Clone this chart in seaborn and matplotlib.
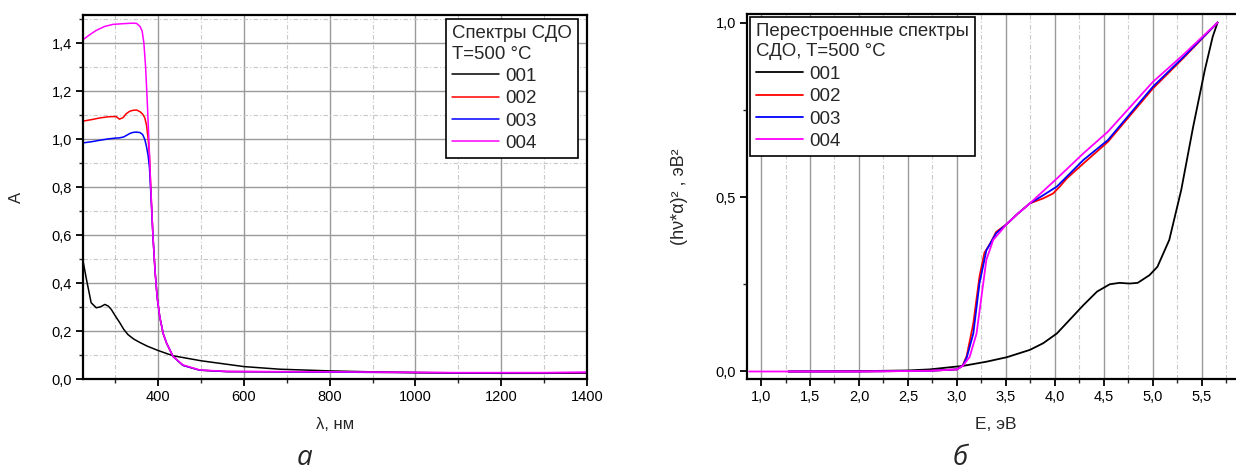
import numpy as np
import pandas as pd
import matplotlib
matplotlib.use("Agg")
import matplotlib.pyplot as plt
from matplotlib.ticker import MultipleLocator, FuncFormatter
import seaborn as sns

# ---------------- data: panel a (absorbance vs wavelength) ----------------
wl_001 = [225, 233, 244, 256, 266, 276, 284, 291, 300, 311, 320, 330, 343, 357, 375, 400, 435,
          501, 600, 684, 800, 900, 1000, 1100, 1200, 1300, 1400]
a_001 = [0.494, 0.417, 0.319, 0.298, 0.302, 0.312, 0.305, 0.291, 0.265, 0.235, 0.208, 0.186, 0.168,
         0.154, 0.138, 0.120, 0.098, 0.077, 0.053, 0.042, 0.035, 0.031, 0.028, 0.026, 0.025, 0.025, 0.026]

wl_002 = [225, 245, 264, 285, 302, 310, 318, 326, 334, 342, 350, 358, 364, 369, 373, 377, 380, 383,
          388, 393, 398, 404, 412, 420, 435, 458, 497, 560, 700, 900, 1100, 1300, 1400]
a_002 = [1.076, 1.082, 1.089, 1.094, 1.095, 1.084, 1.090, 1.107, 1.117, 1.121, 1.122, 1.115, 1.105,
         1.09, 1.06, 1.0, 0.93, 0.80, 0.60, 0.45, 0.34, 0.26, 0.19, 0.15, 0.095, 0.058, 0.038, 0.032,
         0.031, 0.029, 0.027, 0.026, 0.027]

wl_003 = [225, 245, 264, 285, 300, 310, 320, 328, 335, 342, 350, 358, 364, 369, 373, 377, 380, 383,
          388, 393, 398, 404, 412, 420, 435, 458, 497, 560, 700, 900, 1100, 1300, 1400]
a_003 = [0.985, 0.990, 0.996, 1.002, 1.005, 1.006, 1.010, 1.018, 1.025, 1.029, 1.030, 1.028, 1.02,
         1.0, 0.97, 0.93, 0.88, 0.78, 0.60, 0.45, 0.34, 0.26, 0.19, 0.15, 0.095, 0.058, 0.038, 0.032,
         0.031, 0.029, 0.027, 0.027, 0.028]

wl_004 = [225, 240, 256, 275, 295, 320, 340, 350, 358, 363, 367, 371, 375, 379, 383, 388, 393, 398,
          404, 412, 420, 435, 458, 497, 560, 700, 900, 1100, 1300, 1400]
a_004 = [1.415, 1.435, 1.454, 1.470, 1.479, 1.482, 1.484, 1.483, 1.47, 1.45, 1.40, 1.30, 1.15, 0.98,
         0.80, 0.60, 0.45, 0.34, 0.26, 0.19, 0.15, 0.095, 0.060, 0.039, 0.033, 0.032, 0.030, 0.028,
         0.028, 0.030]

# ---------------- data: panel б (Tauc plot) ----------------
e_001 = [1.28, 2.0, 2.5, 2.72, 3.06, 3.30, 3.51, 3.745, 3.88, 4.02, 4.15, 4.29, 4.43, 4.56, 4.66, 4.76,
         4.845, 4.965, 5.046, 5.167, 5.289, 5.41, 5.53, 5.61, 5.66]
t_001 = [0.0, 0.001, 0.003, 0.006, 0.016, 0.028, 0.041, 0.062, 0.081, 0.109, 0.148, 0.19, 0.229, 0.25,
         0.254, 0.252, 0.254, 0.276, 0.30, 0.377, 0.52, 0.70, 0.864, 0.959, 1.0]

e_002 = [1.28, 2.0, 2.72, 3.0, 3.06, 3.10, 3.167, 3.23, 3.28, 3.34, 3.40, 3.51, 3.62, 3.745, 3.88,
         3.98, 4.05, 4.12, 4.29, 4.54, 5.0, 5.3, 5.66]
t_002 = [0.0, 0.0, 0.002, 0.006, 0.018, 0.045, 0.138, 0.272, 0.34, 0.367, 0.40, 0.423, 0.452, 0.482,
         0.496, 0.51, 0.53, 0.553, 0.596, 0.658, 0.811, 0.895, 1.0]

e_003 = [1.28, 2.0, 2.72, 3.0, 3.06, 3.10, 3.167, 3.23, 3.30, 3.40, 3.51, 3.62, 3.745, 3.88, 4.02,
         4.29, 4.54, 5.0, 5.3, 5.66]
t_003 = [0.0, 0.0, 0.002, 0.006, 0.017, 0.04, 0.109, 0.253, 0.347, 0.396, 0.423, 0.452, 0.482, 0.505,
         0.53, 0.606, 0.663, 0.816, 0.898, 1.0]

e_004 = [0.88, 1.5, 2.0, 2.72, 3.0, 3.06, 3.13, 3.20, 3.25, 3.30, 3.37, 3.51, 3.62, 3.745, 4.02, 4.29,
         4.54, 5.0, 5.3, 5.66]
t_004 = [0.0, 0.0, 0.0, 0.002, 0.006, 0.016, 0.042, 0.109, 0.214, 0.32, 0.377, 0.423, 0.452, 0.482,
         0.553, 0.625, 0.687, 0.83, 0.905, 1.0]

series_names = ["001", "002", "003", "004"]
series_colors = ["#000000", "#ff0000", "#0000ff", "#ff00ff"]
legend_title_a = "Спектры СДО\nT=500 °C"
legend_title_b = "Перестроенные спектры\nСДО, T=500 °C"

df_a = pd.concat([
    pd.DataFrame({"x": wl_001, "y": a_001, "s": "001"}),
    pd.DataFrame({"x": wl_002, "y": a_002, "s": "002"}),
    pd.DataFrame({"x": wl_003, "y": a_003, "s": "003"}),
    pd.DataFrame({"x": wl_004, "y": a_004, "s": "004"}),
], ignore_index=True)
df_b = pd.concat([
    pd.DataFrame({"x": e_001, "y": t_001, "s": "001"}),
    pd.DataFrame({"x": e_002, "y": t_002, "s": "002"}),
    pd.DataFrame({"x": e_003, "y": t_003, "s": "003"}),
    pd.DataFrame({"x": e_004, "y": t_004, "s": "004"}),
], ignore_index=True)

sns.set_theme(style="white")
plt.rcParams["font.family"] = ["Liberation Sans", "DejaVu Sans"]
plt.rcParams["axes.edgecolor"] = "black"
plt.rcParams["axes.linewidth"] = 1.6

W, H = 1236, 470
fig = plt.figure(figsize=(W / 100, H / 100), dpi=100)
ax1 = fig.add_axes([83 / W, 1 - 379.3 / H, (587 - 83) / W, (379.3 - 15) / H])
ax2 = fig.add_axes([747 / W, 1 - 379 / H, (1245 - 747) / W, (379 - 14) / H])

palette = dict(zip(series_names, series_colors))
sns.lineplot(data=df_a, x="x", y="y", hue="s", palette=palette, ax=ax1, lw=1.1, sort=False,
             estimator=None)
sns.lineplot(data=df_b, x="x", y="y", hue="s", palette=palette, ax=ax2, lw=1.3, sort=False,
             estimator=None)

comma = FuncFormatter(lambda v, p: f"{v:.1f}".replace(".", ","))
comma_int = FuncFormatter(lambda v, p: f"{v:.0f}")

# panel a
ax1.set_xlim(225, 1400)
ax1.set_ylim(0, 1.518)
ax1.xaxis.set_major_locator(MultipleLocator(200))
ax1.xaxis.set_minor_locator(MultipleLocator(100))
ax1.yaxis.set_major_locator(MultipleLocator(0.2))
ax1.yaxis.set_minor_locator(MultipleLocator(0.1))
ax1.xaxis.set_major_formatter(comma_int)
ax1.yaxis.set_major_formatter(comma)
ax1.grid(which="major", color="#9a9a9a", lw=1.0, ls="-")
ax1.grid(which="minor", color="#c8c8c8", lw=0.8, ls=(0, (4, 2, 1, 2)))
ax1.set_xlabel("λ, нм", fontsize=12, labelpad=9)
ax1.set_ylabel("A", fontsize=12, labelpad=20)

# panel b
ax2.set_xlim(0.857, 5.94)
ax2.set_ylim(-0.0215, 1.0244)
ax2.xaxis.set_major_locator(MultipleLocator(0.5))
ax2.xaxis.set_minor_locator(MultipleLocator(0.25))
ax2.yaxis.set_major_locator(MultipleLocator(0.5))
ax2.yaxis.set_minor_locator(MultipleLocator(0.25))
ax2.xaxis.set_major_formatter(comma)
ax2.yaxis.set_major_formatter(comma)
ax2.grid(which="major", axis="x", color="#9a9a9a", lw=1.0, ls="-")
ax2.grid(which="minor", axis="x", color="#c8c8c8", lw=0.8, ls=(0, (4, 2, 1, 2)))
ax2.grid(which="both", axis="y", visible=False)
ax2.set_xlabel("E, эВ", fontsize=12.5, labelpad=9)
ax2.set_ylabel("(hν*α)² , эВ²", fontsize=13, labelpad=20)

for ax in (ax1, ax2):
    ax.set_axisbelow(True)
    ax.tick_params(which="major", direction="out", length=5, width=1.3, labelsize=10.5,
                   bottom=True, left=True, top=False, right=False, colors="black", pad=3)
    ax.tick_params(which="minor", direction="out", length=3, width=1.0,
                   bottom=True, left=True, top=False, right=False)
    for sp in ax.spines.values():
        sp.set_visible(True)
        sp.set_color("black")
        sp.set_linewidth(1.6)

# legends
legend_kw = dict(fontsize=13.5, title_fontsize=13.4, frameon=True, fancybox=False, framealpha=1,
                 edgecolor="black", handlelength=2.5, handletextpad=0.35, borderpad=0.32,
                 labelspacing=0.28, borderaxespad=0)

h1, l1 = ax1.get_legend_handles_labels()
leg1 = ax1.legend(h1, l1, title=legend_title_a, loc="upper right", bbox_to_anchor=(0.982, 0.99),
                  **legend_kw)
h2, l2 = ax2.get_legend_handles_labels()
leg2 = ax2.legend(h2, l2, title=legend_title_b, loc="upper left", bbox_to_anchor=(0.006, 0.993),
                  **legend_kw)
for leg in (leg1, leg2):
    leg._legend_box.align = "left"
    leg.get_frame().set_linewidth(1.2)
    leg.get_title().set_linespacing(1.3)

# captions
fig.text(305 / W, 1 - 458 / H, "а", fontsize=20, style="italic", ha="center", va="center",
         family=["Open Sans", "DejaVu Sans"])
fig.text(960 / W, 1 - 458 / H, "б", fontsize=20, style="italic", ha="center", va="center",
         family=["Open Sans", "DejaVu Sans"])

fig.savefig("out.png", dpi=100)
